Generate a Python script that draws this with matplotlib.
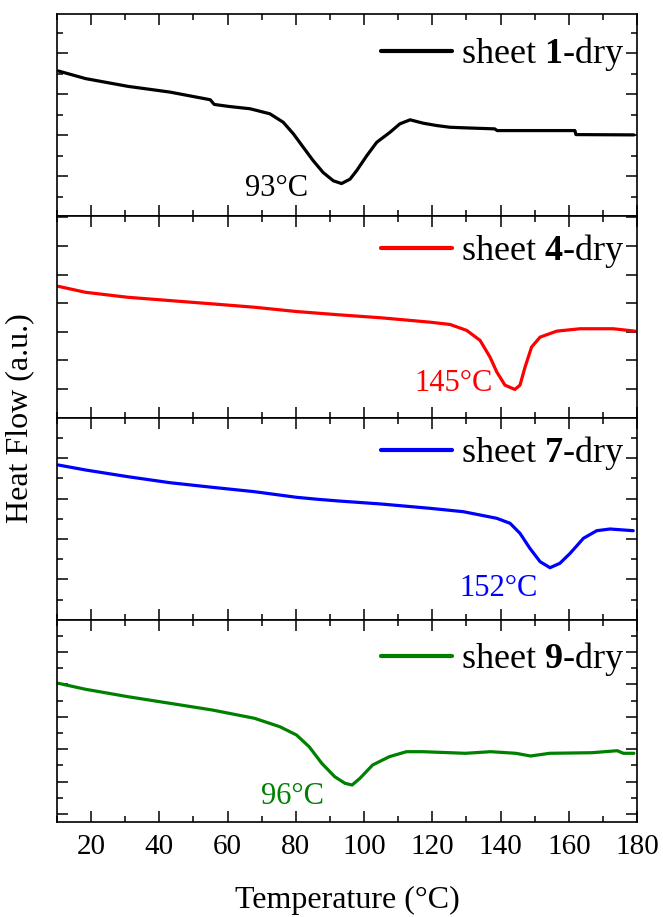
import numpy as np
import matplotlib
matplotlib.use("Agg")
import matplotlib.pyplot as plt
from matplotlib.ticker import MultipleLocator, FixedLocator, NullFormatter

plt.rcParams['font.family'] = ['Liberation Serif', 'DejaVu Serif']
plt.rcParams['mathtext.fontset'] = 'custom'
plt.rcParams['mathtext.rm'] = 'Liberation Serif'
plt.rcParams['mathtext.bf'] = 'Liberation Serif:bold'

# ---- data (temperature in °C, heat flow in arbitrary units) ----
t1 = [10.4, 18.4, 30.8, 43.1, 54.9, 56.1, 60.4, 66.6, 72.4, 76.3, 79.3, 82.2, 85.1, 88.0,
      91.0, 93.4, 95.9, 97.8, 100.8, 103.7, 107.6, 110.5, 113.5, 117.4, 121.3, 125.2,
      129.7, 138.3, 139.0, 161.8, 162.1, 179.1]
h1 = [144.3, 136.7, 129.0, 123.3, 115.7, 111.0, 109.0, 106.7, 101.7, 93.3, 81.7, 68.3, 55.0, 43.3,
      35.0, 32.3, 36.7, 45.0, 60.0, 73.3, 83.3, 91.7, 95.7, 92.3, 90.0, 88.3,
      87.7, 86.7, 85.0, 85.0, 81.0, 80.7]

t4 = [10.4, 18.4, 30.8, 43.1, 55.5, 67.9, 80.2, 92.6, 105.0, 119.3, 125.2, 130.1, 134.0,
      136.9, 138.9, 141.3, 144.2, 145.7, 147.2, 149.1, 151.6, 156.5, 163.3, 173.0, 179.4]
h4 = [132.3, 126.3, 121.3, 118.0, 114.7, 111.3, 107.0, 103.7, 100.7, 96.3, 94.0, 88.0, 78.0,
      61.3, 46.3, 33.0, 28.7, 33.0, 51.3, 71.3, 81.3, 87.3, 89.7, 89.7, 87.3]

t7 = [10.4, 18.4, 30.8, 43.1, 55.5, 67.9, 80.2, 86.4, 92.6, 105.0, 119.3, 129.1, 138.9,
      142.8, 145.7, 148.6, 151.6, 154.5, 157.4, 160.4, 164.3, 168.2, 172.1, 178.9]
h7 = [155.0, 150.0, 143.3, 137.3, 132.7, 128.3, 122.7, 120.7, 119.0, 116.0, 111.7, 108.3, 101.7,
      96.7, 86.7, 71.7, 58.3, 52.3, 56.7, 66.7, 81.7, 89.3, 91.0, 89.3]

t9 = [10.4, 18.4, 30.8, 43.1, 55.5, 67.9, 75.3, 80.2, 83.9, 87.6, 91.4, 94.4, 96.5,
      98.8, 102.5, 107.4, 112.4, 117.3, 129.7, 137.1, 144.5, 148.8, 154.4, 166.8, 174.2,
      176.0, 179.1]
h9 = [138.7, 132.7, 125.3, 118.7, 112.0, 103.7, 95.3, 87.0, 75.3, 58.7, 45.3, 38.7, 37.0,
      43.7, 57.0, 65.3, 70.3, 70.3, 68.7, 70.3, 68.7, 66.0, 68.7, 69.3, 71.3,
      68.7, 68.7]

samples = ['1', '4', '7', '9']
colors = ['black', '#ff0000', '#0000ff', '#008000']
temps = [t1, t4, t7, t9]
flows = [h1, h4, h7, h9]
peak_labels = ['93°C', '145°C', '152°C', '96°C']
peak_label_x = [74.5, 126.2, 139.3, 79.0]
peak_label_y = [27, 35, 32, 26]

# panel heights (a.u.) and y tick positions
ylims = [201, 203, 202, 202]
ymajor = [np.arange(39.4, 201, 40.8), np.arange(29, 203, 28.8),
          np.arange(40.6, 202, 40.4), np.arange(8, 202, 32.4)]
yminor = [np.arange(19, 201, 40.8), [],
          np.arange(20.4, 202, 40.4), np.arange(24.2, 202, 32.4)]
legend_y = [0.80, 0.825, 0.825, 0.805]

fig = plt.figure(figsize=(6.63, 9.17), dpi=100)
gs = fig.add_gridspec(4, 1, left=57/663, right=637/663, top=1-14/917, bottom=1-822/917,
                      hspace=0)
axes = [fig.add_subplot(gs[i]) for i in range(4)]

for i, ax in enumerate(axes):
    ax.plot(temps[i], flows[i], color=colors[i], lw=2.3,
            label=r'sheet $\mathbf{' + samples[i] + r'}$-dry',
            solid_joinstyle='round', solid_capstyle='round')
    ax.set_xlim(10, 180)
    ax.set_ylim(0, ylims[i])
    ax.xaxis.set_major_locator(MultipleLocator(20))
    ax.xaxis.set_minor_locator(MultipleLocator(10))
    ax.yaxis.set_major_locator(FixedLocator(ymajor[i]))
    ax.yaxis.set_minor_locator(FixedLocator(yminor[i]))
    ax.yaxis.set_major_formatter(NullFormatter())
    ax.tick_params(which='both', direction='in', top=True, right=True, width=1.1)
    ax.tick_params(which='major', length=8)
    ax.tick_params(which='minor', length=4.5)
    ax.tick_params(axis='x', labelsize=21, pad=9)
    for s in ax.spines.values():
        s.set_linewidth(1.2)
    if i < 3:
        ax.tick_params(axis='x', labelbottom=False)
    ax.text(peak_label_x[i], peak_label_y[i], peak_labels[i], color=colors[i],
            fontsize=22, ha='center', va='center')
    leg = ax.legend(loc='center right', bbox_to_anchor=(0.978, legend_y[i]), frameon=False,
                    fontsize=26, handlelength=1.95, handletextpad=0.25, borderpad=0,
                    borderaxespad=0)
    for line in leg.get_lines():
        line.set_linewidth(3)

axes[-1].set_xlabel('Temperature (°C)', fontsize=23, labelpad=18)
fig.text(20/663, 1-418/917, 'Heat Flow (a.u.)', rotation=90, fontsize=23,
         ha='center', va='center')

fig.savefig('out.png', dpi=100)
